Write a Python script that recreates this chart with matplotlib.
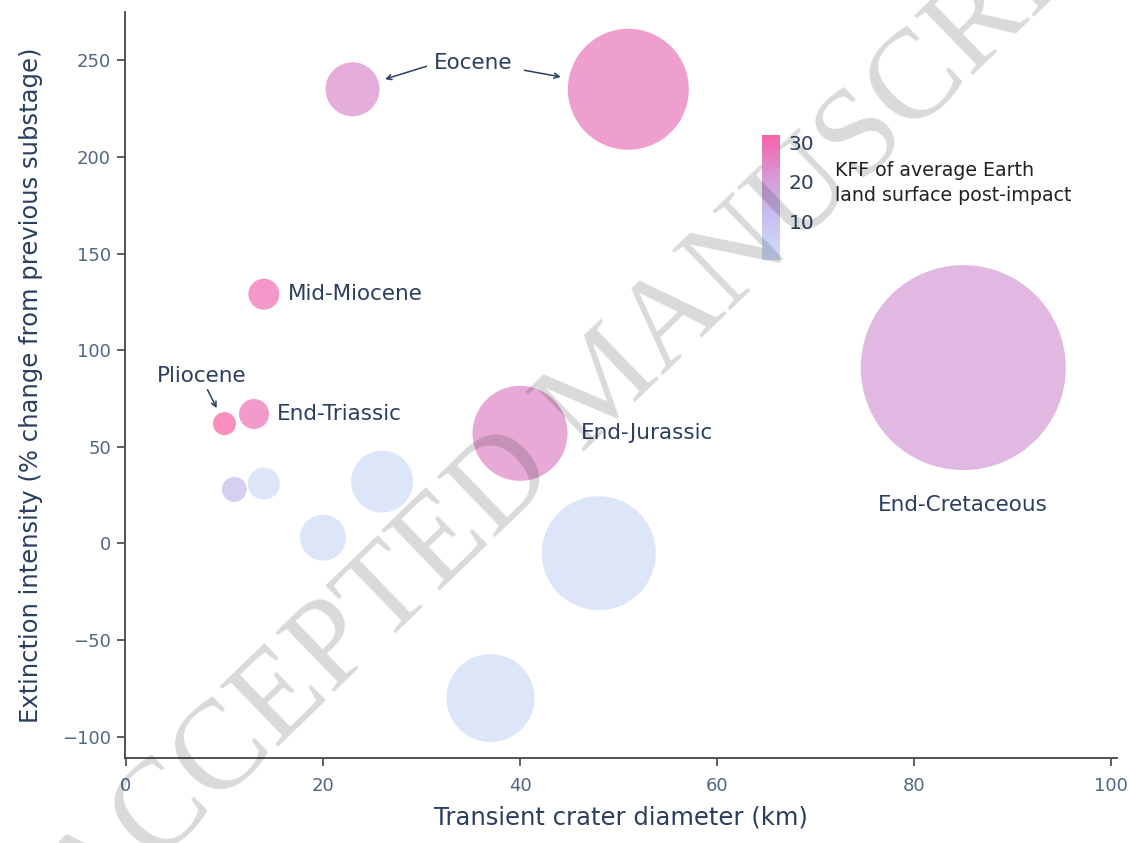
import numpy as np
import matplotlib.pyplot as plt
from matplotlib.colors import LinearSegmentedColormap, Normalize

# bubble data: crater diameter, extinction intensity, KFF, bubble size
crater_km = [23, 51, 10, 13, 11, 14, 26, 14, 20, 40, 48, 37, 85]
extinction = [235, 235, 62, 67, 28, 31, 32, 129, 3, 57, -5, -80, 91]
kff = [23, 27, 31.8, 28, 12, 1, 1, 29, 1, 24, 0.4, 0.6, 20]
bubble_size = [54, 121, 23, 30, 25, 32, 62, 31, 46, 95, 114, 88, 205]

# labels placed to the right of their bubble: index -> text
labels = {3: 'End-Triassic', 7: 'Mid-Miocene', 9: 'End-Jurassic'}

xticks = [0, 20, 40, 60, 80, 100]
yticks = [-100, -50, 0, 50, 100, 150, 200, 250]
cbar_ticks = [10, 20, 30]

text_col = '#2a3f5f'
tick_col = '#506784'
line_col = '#444444'

cmap = LinearSegmentedColormap.from_list(
    'kff', [(0, '#d0ddf8'), (0.35, '#c6bff0'), (0.65, '#d59ad6'), (1, '#f762a7')])
norm = Normalize(vmin=min(kff), vmax=max(kff))

fig = plt.figure(figsize=(11.31, 8.43), dpi=100)
ax = fig.add_axes([0.1105, 0.1008, 0.8771, 0.885])

# marker diameter given in pixels -> points^2
sizes = [(d * 72 / 100) ** 2 for d in bubble_size]
ax.scatter(crater_km, extinction, s=sizes, c=kff, cmap=cmap, norm=norm,
           alpha=0.72, linewidths=0, zorder=2)

ax.set_xlim(-0.1, 100.6)
ax.set_ylim(-111, 275)
ax.set_xticks(xticks)
ax.set_yticks(yticks)
ax.set_yticklabels([f'{v}'.replace('-', '\u2212') for v in yticks])
for side in ['top', 'right']:
    ax.spines[side].set_visible(False)
for side in ['left', 'bottom']:
    ax.spines[side].set_color(line_col)
    ax.spines[side].set_linewidth(1.3)
ax.tick_params(axis='both', colors=line_col, length=6, width=1.2,
               labelcolor=tick_col, labelsize=13)
ax.tick_params(axis='y', pad=4)
ax.tick_params(axis='x', pad=8)

ax.set_xlabel('Transient crater diameter (km)', fontsize=17.5, color=text_col, labelpad=7)
ax.set_ylabel('Extinction intensity (% change from previous substage)', fontsize=17.5,
              color=text_col, labelpad=14)

ann_size = 15.5
# side labels
for i, txt in labels.items():
    r = bubble_size[i] / 2
    gap = 13 if txt == 'End-Jurassic' else 8
    ax.annotate(txt, (crater_km[i], extinction[i]), xytext=(r + gap, 0),
                textcoords='offset pixels', ha='left', va='center',
                fontsize=ann_size, color=text_col)
# label under the biggest bubble
ax.annotate('End-Cretaceous', (crater_km[12], extinction[12]),
            xytext=(0, -bubble_size[12] / 2 - 35), textcoords='offset pixels',
            ha='center', va='center', fontsize=ann_size, color=text_col)

arrow = dict(arrowstyle='->', color=text_col, lw=1.1, shrinkA=0, shrinkB=0,
             mutation_scale=9)
# Eocene: label between the two bubbles
ax.annotate('Eocene', (crater_km[0], extinction[0]), xytext=(121, 26),
            textcoords='offset pixels', ha='center', va='center', fontsize=ann_size,
            color=text_col)
ax.annotate('', (crater_km[0], extinction[0]), xytext=(74, 23),
            textcoords='offset pixels', arrowprops=dict(arrow, shrinkB=24.5))
ax.annotate('', (crater_km[1], extinction[1]), xytext=(-104, 19),
            textcoords='offset pixels', arrowprops=dict(arrow, shrinkB=49.5))
# Pliocene: label above with arrow
ax.annotate('Pliocene', (crater_km[2], extinction[2]), xytext=(-23, 48),
            textcoords='offset pixels', ha='center', va='center', fontsize=ann_size,
            color=text_col)
ax.annotate('', (crater_km[2], extinction[2]), xytext=(-17, 34),
            textcoords='offset pixels', arrowprops=dict(arrow, shrinkB=12.5))

# colorbar
cax = fig.add_axes([0.674, 0.692, 0.016, 0.148])
cb = fig.colorbar(plt.cm.ScalarMappable(norm=norm, cmap=cmap), cax=cax, ticks=cbar_ticks)
cb.outline.set_visible(False)
cax.tick_params(length=0, labelsize=14.5, labelcolor=text_col, pad=6)
fig.text(0.738, 0.783, 'KFF of average Earth\nland surface post-impact',
         fontsize=13.7, color='#222222', ha='left', va='center', linespacing=1.45)

# watermark
fig.text(0.537, 0.541, 'ACCEPTED MANUSCRIPT', family='Liberation Serif', fontsize=91,
         color='black', alpha=0.15, rotation=44, rotation_mode='anchor',
         ha='center', va='center', zorder=10)

fig.savefig('out.png', dpi=100)
